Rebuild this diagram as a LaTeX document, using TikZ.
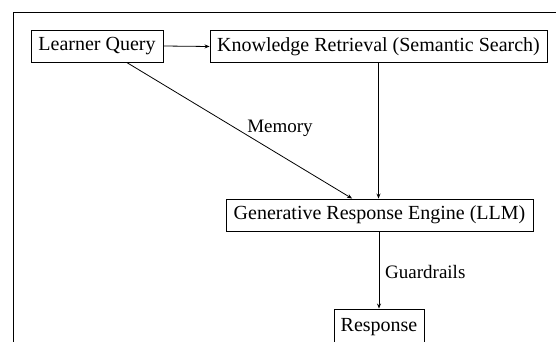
\documentclass[tikz,border=0pt]{standalone}
\usepackage{fontspec}
\setmainfont{Liberation Serif}
\usetikzlibrary{arrows.meta}
\begin{document}
\begin{tikzpicture}[x=1pt,y=-1pt,
  box/.style={draw,line width=0.9pt,inner sep=0pt,minimum height=32pt,font=\fontsize{20}{22}\selectfont},
  conn/.style={line width=0.8pt,-{Stealth[length=5pt,width=4pt]}},
  lbl/.style={font=\fontsize{19}{21}\selectfont,inner sep=0pt}]
\useasboundingbox (0,0) rectangle (556,342);
\clip (0,0) rectangle (556,342);
\draw[line width=0.9pt] (13,360) -- (13,12) -- (570,12);
\node[box,minimum width=132pt] (lq) at (97,46) {Learner Query};
\node[box,minimum width=337pt] (kr) at (378.5,46.5) {Knowledge Retrieval (Semantic Search)};
\node[box,minimum width=307pt] (gen) at (379.5,215) {Generative Response Engine (LLM)};
\node[box,minimum width=90pt,minimum height=36pt] (resp) at (379,327) {Response};
\draw[conn] (lq.east) -- (kr.west);
\draw[conn] (kr.south) -- (kr.south |- gen.north);
\draw[conn] (lq.-29.7) -- (gen.149.8);
\draw[conn] (gen.south -| resp.north) -- (resp.north);
\node[lbl] (mem) at (280,128) {Memory};
\node[lbl,anchor=west] (gr) at (385,272) {Guardrails};
\end{tikzpicture}
\end{document}
